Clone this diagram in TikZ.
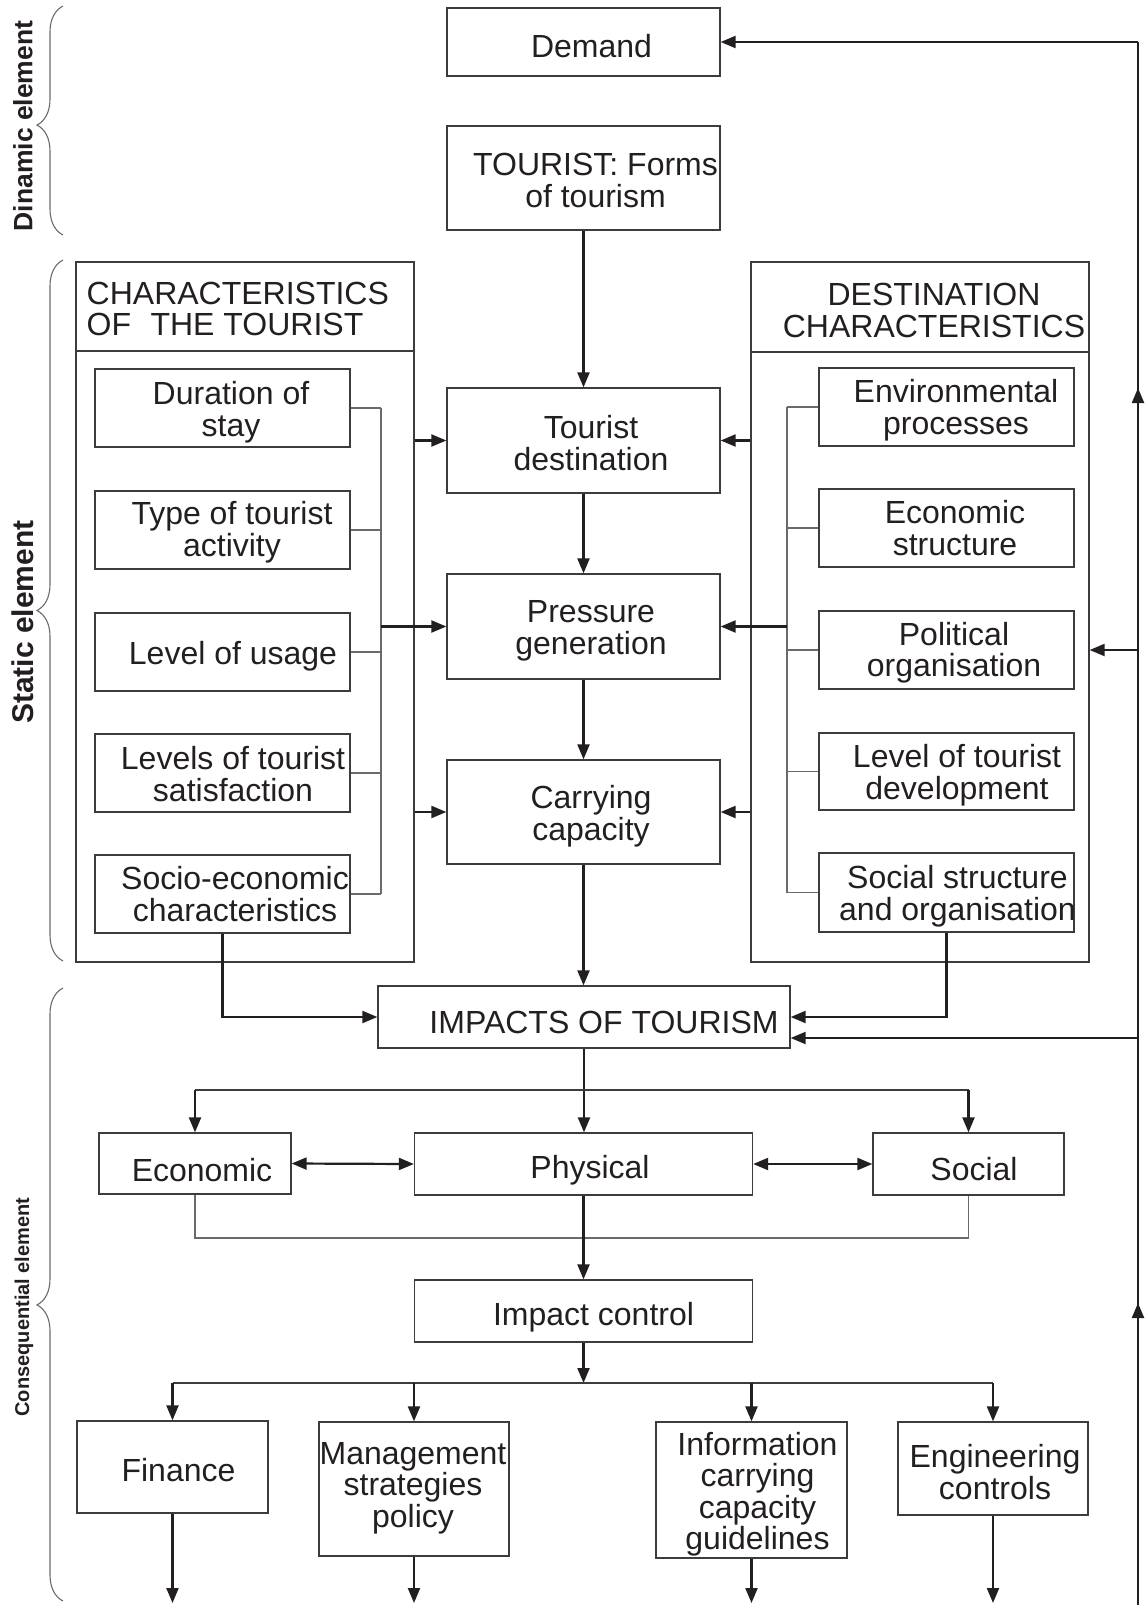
\documentclass[tikz,border=0pt]{standalone}
\usepackage{fontspec}
\setmainfont{Liberation Sans}
\usetikzlibrary{arrows.meta,decorations.pathreplacing}
\definecolor{ink}{HTML}{231F20}
\definecolor{rule}{HTML}{6A6A6C}
\definecolor{frame}{HTML}{3C3C3E}
\begin{document}
\begin{tikzpicture}[x=1pt,y=-1pt,
  font=\fontsize{32}{31.5}\selectfont,
  boxwh/.style 2 args={draw=frame, line width=1.3pt, inner sep=0pt,
    minimum width=#1, minimum height=#2},
  lbl/.style={inner sep=0pt, align=center, text=ink},
  conn/.style={draw=ink, line width=2.2pt, -{Triangle[length=15pt,width=12pt]}},
  both/.style={draw=ink, line width=2.2pt,
    {Triangle[length=15pt,width=12pt]}-{Triangle[length=15pt,width=12pt]}},
  feed/.style={draw=ink, line width=2.2pt},
  bus/.style={draw=rule, line width=1.3pt},
  bracket/.style={draw=rule, line width=1.1pt,
    decorate, decoration={brace, amplitude=26pt, aspect=#1}},
  side/.style={inner sep=0pt, rotate=90, text=ink},
]
\useasboundingbox (0,0) rectangle (1144,1605);

% ---------- element labels and braces ----------
\coordinate (dynTop) at (63,6);    \coordinate (dynBot) at (63,235);
\coordinate (staTop) at (63,260);  \coordinate (staBot) at (63,961);
\coordinate (conTop) at (63,988);  \coordinate (conBot) at (63,1601);
\draw[bracket=0.48] (dynBot) -- (dynTop);
\draw[bracket=0.5]  (staBot) -- (staTop);
\draw[bracket=0.483] (conBot) -- (conTop);
\node[side, font=\fontsize{26.5}{26.5}\selectfont\bfseries] (dynLbl) at (23,126) {Dinamic element};
\node[side, font=\fontsize{30}{30}\selectfont\bfseries] (staLbl) at (23,622) {Static element};
\node[side, font=\fontsize{20}{20}\selectfont\bfseries] (conLbl) at (24,1307) {Consequential element};

% ---------- central column ----------
\node[boxwh={273}{68}] (demand) at (583.5,42) {};
\node[lbl, anchor=base] (demandT) at (591.5,57.3) {Demand};

\node[boxwh={273}{104}] (tourist) at (583.5,178) {};
\node[lbl] (touristT) at (595.5,180.6) {TOURIST: Forms\\of tourism};

\node[boxwh={273}{105}] (tdest) at (583.5,440.5) {};
\node[lbl] (tdestT) at (591,443) {Tourist\\destination};

\node[boxwh={273}{105}] (press) at (583.5,626.5) {};
\node[lbl] (pressT) at (591,631) {Pressure\\generation};

\node[boxwh={273}{104}] (carry) at (583.5,812) {};
\node[lbl] (carryT) at (591,816) {Carrying\\capacity};

% ---------- characteristics of the tourist ----------
\node[boxwh={338}{700}] (chars) at (245,612) {};
\node[boxwh={338}{89}] (charsHead) at (245,306.5) {};
\node[lbl, align=left, anchor=west] (charsT) at (86.5,309)
  {CHARACTERISTICS\\OF\hspace{0.33em} THE TOURIST};

\node[boxwh={255}{78}] (dur) at (222.5,408) {};
\node[lbl] (durT) at (231,412) {Duration of\\stay};
\node[boxwh={255}{78}] (typ) at (222.5,530) {};
\node[lbl] (typT) at (232,532) {Type of tourist\\activity};
\node[boxwh={255}{78}] (usage) at (222.5,652) {};
\node[lbl, anchor=base] (usageT) at (233,664) {Level of usage};
\node[boxwh={255}{78}] (satis) at (222.5,773) {};
\node[lbl] (satisT) at (233,774) {Levels of tourist\\satisfaction};
\node[boxwh={255}{78}] (socio) at (222.5,894) {};
\node[lbl] (socioT) at (235,894) {Socio-economic\\characteristics};

% ---------- destination characteristics ----------
\node[boxwh={338}{700}] (dest) at (920,612) {};
\node[boxwh={338}{90}] (destHead) at (920,307) {};
\node[lbl] (destT) at (934,310.5) {DESTINATION\\CHARACTERISTICS};

\node[boxwh={255}{78}] (env) at (946.5,407) {};
\node[lbl] (envT) at (956,410) {Environmental\\processes};
\node[boxwh={255}{78}] (ecostr) at (946.5,528) {};
\node[lbl] (ecostrT) at (955,528) {Economic\\structure};
\node[boxwh={255}{78}] (polit) at (946.5,650) {};
\node[lbl] (politT) at (954,652.5) {Political\\organisation};
\node[boxwh={255}{77}] (levdev) at (946.5,771.5) {};
\node[lbl] (levdevT) at (957,775) {Level of tourist\\development};
\node[boxwh={255}{79}] (socstr) at (946.5,892.5) {};
\node[lbl] (socstrT) at (957.5,896) {Social structure\\and organisation};

% ---------- impacts ----------
\node[boxwh={412}{62}] (impacts) at (584,1017) {};
\node[lbl, anchor=base] (impactsT) at (604,1033) {IMPACTS OF TOURISM};

\node[boxwh={192}{61}] (econ) at (195,1163.5) {};
\node[lbl, anchor=base] (econT) at (202,1181) {Economic};
\node[boxwh={338}{62}] (phys) at (583.5,1164) {};
\node[lbl, anchor=base] (physT) at (590,1178) {Physical};
\node[boxwh={191}{62}] (social) at (968.5,1164) {};
\node[lbl, anchor=base] (socialT) at (974,1180) {Social};

\node[boxwh={338}{62}] (ictrl) at (583.5,1311) {};
\node[lbl, anchor=base] (ictrlT) at (593.5,1325) {Impact control};

\node[boxwh={191}{92}] (fin) at (172.5,1467) {};
\node[lbl, anchor=base] (finT) at (178.5,1481) {Finance};
\node[boxwh={190}{134}] (mgmt) at (414,1489) {};
\node[lbl] (mgmtT) at (413,1488) {Management\\strategies\\policy};
\node[boxwh={191}{136}] (info) at (751.5,1490) {};
\node[lbl] (infoT) at (757.5,1494) {Information\\carrying\\capacity\\guidelines};
\node[boxwh={190}{93}] (eng) at (993,1468.5) {};
\node[lbl] (engT) at (995,1472) {Engineering\\controls};

% ---------- flow down the central column ----------
\draw[conn] (tourist.south) -- (tdest.north);
\draw[conn] (tdest.south) -- (press.north);
\draw[conn] (press.south) -- (carry.north);
\draw[conn] (carry.south) -- (carry.south |- impacts.north);

% ---------- left bus ----------
\coordinate (lbus) at (381,0);
\foreach \b in {dur,typ,usage,satis,socio}
  \draw[bus] (\b.east) -- (\b.east -| lbus);
\draw[bus] (dur.east -| lbus) -- (socio.east -| lbus);
\draw[conn] (tdest.west -| chars.east) -- (tdest.west);
\draw[conn] (press.west -| lbus) -- (press.west);
\draw[conn] (carry.west -| chars.east) -- (carry.west);

% ---------- right bus ----------
\coordinate (rbus) at (787,0);
\foreach \b in {env,ecostr,polit,levdev,socstr}
  \draw[bus] (\b.west) -- (\b.west -| rbus);
\draw[bus] (env.west -| rbus) -- (socstr.west -| rbus);
\draw[conn] (tdest.east -| dest.west) -- (tdest.east);
\draw[conn] (press.east -| rbus) -- (press.east);
\draw[conn] (carry.east -| dest.west) -- (carry.east);

% ---------- into the impacts ----------
\draw[conn] (socio.south) |- (impacts.west);
\draw[conn] (socstr.south) |- (impacts.east);

% ---------- feedback loop on the right ----------
\coordinate (fbTop) at (1138,42);
\coordinate (fbBot) at (1138,1605);
\coordinate (fbUp1) at (1138,388);
\coordinate (fbUp2) at (1138,1303);
\coordinate (fbImp) at (1138,1038);
\draw[feed] (fbBot) -- (fbTop);
\draw[conn] (fbTop) -- (demand.east);
\draw[conn] (fbUp1) ++(0,30) -- (fbUp1);
\draw[conn] (fbUp2) ++(0,30) -- (fbUp2);
\draw[conn] (polit.east -| fbTop) -- (polit.east -| dest.east);
\draw[conn] (fbImp) -- (fbImp -| impacts.east);

% ---------- types of impact ----------
\coordinate (dist) at (584,1090);
\draw[conn] (impacts.south) -- (impacts.south |- phys.north);
\draw[feed, draw=frame, line width=1.8pt] (dist -| econ.north) -- (dist -| social.north);
\draw[conn] (dist -| econ.north) -- (econ.north);
\draw[conn] (dist -| social.north) -- (social.north);
\draw[both] (econ.east) -- (phys.west);
\draw[both] (phys.east) -- (social.west);
\coordinate (coll) at (584,1238);
\draw[bus] (econ.south) -- (econ.south |- coll) -- (social.south |- coll) -- (social.south);
\draw[conn] (phys.south) -- (ictrl.north);

% ---------- impact control measures ----------
\coordinate (cbus) at (583.5,1383);
\coordinate (outY) at (0,1603);
\draw[conn] (ictrl.south) -- (cbus);
\draw[feed, draw=frame, line width=1.8pt] (cbus -| fin.north) -- (cbus -| eng.north);
\foreach \b in {fin,mgmt,info,eng}{
  \draw[conn] (cbus -| \b.north) -- (\b.north);
  \draw[conn] (\b.south) -- (\b.south |- outY);
}
\end{tikzpicture}
\end{document}
